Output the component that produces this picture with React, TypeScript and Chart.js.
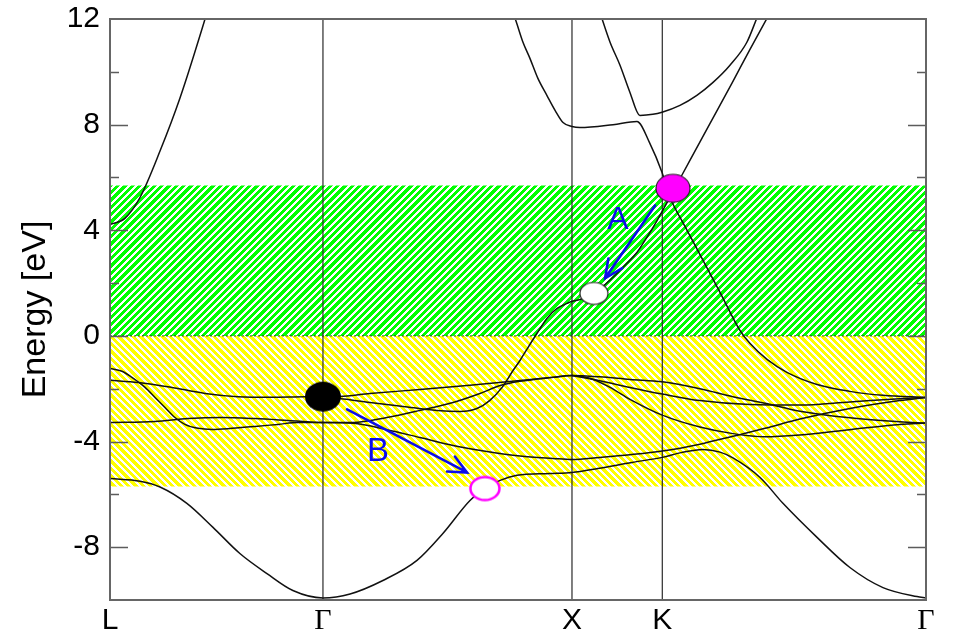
import { useEffect, useRef } from 'react';
import { Chart, registerables } from 'chart.js';

Chart.register(...registerables);

// High-symmetry points along the path (k in units of 2π/a)
const kPoints = [0, 0.856, 1.857, 2.22, 3.28];
const kLabels = ['L', 'Γ', 'X', 'K', 'Γ'];

// Energy axis
const energyMin = -10;
const energyMax = 12;
const energyStep = 2;
const labeledEnergies = [-8, -4, 0, 4, 8, 12];

// Shaded windows above and below the Fermi level (eV)
const upperWindow = 5.7;
const lowerWindow = -5.7;

// Bands as [k, E(eV)] pairs
const bandLowest: [number, number][] = [
  [0, -5.4], [0.121, -5.5], [0.201, -5.72], [0.309, -6.34], [0.414, -7.25], [0.522, -8.24],
  [0.631, -9.0], [0.735, -9.64], [0.856, -9.92], [0.965, -9.77], [1.097, -9.26], [1.234, -8.5],
  [1.338, -7.48], [1.447, -6.23], [1.507, -5.78], [1.568, -5.47], [1.636, -5.28], [1.768, -5.21],
  [1.857, -5.17], [1.961, -5.02], [2.098, -4.79], [2.22, -4.6], [2.299, -4.41], [2.383, -4.3],
  [2.452, -4.4], [2.504, -4.62], [2.613, -5.36], [2.705, -6.34], [2.842, -7.63], [2.974, -8.77],
  [3.107, -9.53], [3.244, -9.87], [3.28, -9.92],
];

const bandValenceA: [number, number][] = [
  [0, -1.23], [0.048, -1.34], [0.088, -1.57], [0.141, -1.95], [0.181, -2.33], [0.221, -2.71],
  [0.261, -3.09], [0.301, -3.35], [0.354, -3.5], [0.41, -3.54], [0.49, -3.5], [0.583, -3.43],
  [0.675, -3.35], [0.756, -3.28], [0.856, -3.28], [0.977, -3.31], [1.113, -3.55], [1.246, -3.85],
  [1.379, -4.15], [1.515, -4.38], [1.648, -4.55], [1.781, -4.64], [1.857, -4.68], [1.969, -4.6],
  [2.09, -4.5], [2.22, -4.36], [2.371, -4.1], [2.504, -3.8], [2.633, -3.5], [2.773, -3.15],
  [2.974, -2.75], [3.175, -2.45], [3.28, -2.33],
];

const bandValenceB: [number, number][] = [
  [0, -3.28], [0.181, -3.24], [0.314, -3.13], [0.45, -3.09], [0.583, -3.13], [0.715, -3.2],
  [0.856, -3.28], [0.977, -3.28], [1.113, -3.09], [1.246, -2.82], [1.379, -2.52], [1.487, -2.18],
  [1.568, -1.88], [1.648, -1.72], [1.781, -1.57], [1.857, -1.5], [1.929, -1.6], [2.01, -1.95],
  [2.09, -2.4], [2.22, -3.0], [2.371, -3.45], [2.504, -3.7], [2.633, -3.82], [2.773, -3.75],
  [2.974, -3.55], [3.175, -3.35], [3.28, -3.3],
];

const bandValenceC: [number, number][] = [
  [0, -1.68], [0.113, -1.76], [0.249, -1.95], [0.382, -2.18], [0.514, -2.3], [0.651, -2.32],
  [0.784, -2.3], [0.856, -2.3], [0.924, -2.29], [1.045, -2.18], [1.246, -2.03], [1.447, -1.87],
  [1.648, -1.69], [1.781, -1.57], [1.857, -1.5], [1.969, -1.55], [2.09, -1.65], [2.22, -1.74],
  [2.371, -2.0], [2.504, -2.3], [2.633, -2.55], [2.773, -2.85], [2.974, -3.1], [3.175, -3.25],
  [3.28, -3.3],
];

const bandValenceD: [number, number][] = [
  [1.857, -1.5], [1.969, -1.7], [2.09, -1.95], [2.22, -2.2], [2.371, -2.45], [2.572, -2.6],
  [2.773, -2.62], [2.974, -2.5], [3.175, -2.38], [3.28, -2.33],
];

const bandConductionL: [number, number][] = [
  [0, 4.22], [0.06, 4.45], [0.121, 5.25], [0.201, 7.0], [0.281, 9.0], [0.382, 12.0], [0.41, 12.9],
];

const bandConductionX: [number, number][] = [
  [0.856, -2.3], [0.924, -2.37], [1.045, -2.52], [1.178, -2.67], [1.314, -2.82], [1.407, -2.86],
  [1.475, -2.75], [1.527, -2.44], [1.576, -1.95], [1.62, -1.31], [1.648, -0.93], [1.68, -0.44],
  [1.716, 0.09], [1.756, 0.66], [1.797, 1.04], [1.837, 1.23], [1.857, 1.31], [1.889, 1.38],
  [1.945, 1.61], [2.022, 2.22], [2.078, 2.75], [2.118, 3.16], [2.158, 3.73], [2.199, 4.37],
  [2.251, 5.25], [2.331, 6.65], [2.412, 8.05], [2.504, 9.64], [2.572, 10.84], [2.641, 12.03],
  [2.693, 12.9],
];

const bandConductionUpper: [number, number][] = [
  [1.608, 12.5], [1.628, 12.03], [1.66, 11.12], [1.688, 10.51], [1.72, 9.75], [1.756, 9.11],
  [1.789, 8.54], [1.821, 8.08], [1.857, 7.93], [1.889, 7.89], [2.022, 8.0], [2.118, 8.12],
  [2.17, 7.29], [2.219, 6.19], [2.251, 5.25], [2.311, 4.15], [2.371, 3.09], [2.452, 1.65],
  [2.532, 0.21], [2.572, -0.28], [2.641, -0.89], [2.721, -1.38], [2.842, -1.84], [2.974, -2.1],
  [3.107, -2.25], [3.28, -2.33],
];

const bandConductionTop: [number, number][] = [
  [1.961, 12.5], [1.977, 12.03], [2.01, 11.12], [2.05, 10.25], [2.09, 9.22], [2.13, 8.35],
  [2.182, 8.39], [2.219, 8.47], [2.291, 8.73], [2.359, 9.11], [2.424, 9.6], [2.492, 10.25],
  [2.56, 11.12], [2.6, 12.03], [2.621, 12.5],
];

// Marked states
const valenceMax: [number, number] = [0.856, -2.3];
const crossingK: [number, number] = [2.263, 5.59];
const conductionMinX: [number, number] = [1.945, 1.61];
const lowerState: [number, number] = [1.507, -5.78];

// Transitions: [from, to]
const transitionA: [[number, number], [number, number]] = [[2.191, 4.94], [1.99, 2.18]];
const transitionB: [[number, number], [number, number]] = [[0.953, -2.78], [1.435, -5.17]];
const labelA: [number, number] = [2.042, 4.37];
const labelB: [number, number] = [1.077, -4.41];

const SANS = '"Liberation Sans", Arial, sans-serif';
const SERIF = '"Liberation Serif", "Times New Roman", serif';
const ARROW_BLUE = 'rgb(12,12,235)';

const toXY = (pts: [number, number][]) => pts.map(([x, y]) => ({ x, y }));

// Crisp 45° stripe tile (3 stripes per 22 px); rising = "/" stripes, otherwise "\"
function hatchTile(rgb: [number, number, number], rising: boolean) {
  const size = 22;
  const period = size / 3;
  const duty = 0.58;
  const c = document.createElement('canvas');
  c.width = size;
  c.height = size;
  const g = c.getContext('2d')!;
  const img = g.createImageData(size, size);
  for (let y = 0; y < size; y++) {
    for (let x = 0; x < size; x++) {
      const s = rising ? x + y : x - y + size;
      const phase = (s / period) % 1;
      const i = (y * size + x) * 4;
      if (phase < duty) {
        img.data[i] = rgb[0];
        img.data[i + 1] = rgb[1];
        img.data[i + 2] = rgb[2];
        img.data[i + 3] = 255;
      } else {
        img.data[i + 3] = 0;
      }
    }
  }
  g.putImageData(img, 0, 0);
  return c;
}

function ellipseImage(rx: number, ry: number, fill: string, stroke: string, lw: number) {
  const c = document.createElement('canvas');
  c.width = Math.ceil(2 * rx + lw + 2);
  c.height = Math.ceil(2 * ry + lw + 2);
  const g = c.getContext('2d')!;
  g.beginPath();
  g.ellipse(c.width / 2, c.height / 2, rx, ry, 0, 0, Math.PI * 2);
  g.fillStyle = fill;
  g.fill();
  if (lw > 0) {
    g.lineWidth = lw;
    g.strokeStyle = stroke;
    g.stroke();
  }
  return c;
}

const frameAndTicks = {
  id: 'frameAndTicks',
  afterDatasetsDraw(chart: any) {
    const { ctx, chartArea: a, scales } = chart;
    const y = scales.y;
    ctx.save();
    ctx.strokeStyle = '#5c5c5c';
    ctx.lineWidth = 1.5;
    for (let v = energyMin + energyStep; v < energyMax; v += energyStep) {
      const py = Math.round(y.getPixelForValue(v)) + 0.5;
      const len = labeledEnergies.includes(v) ? 18 : 9;
      ctx.beginPath();
      ctx.moveTo(a.left, py);
      ctx.lineTo(a.left + len, py);
      ctx.moveTo(a.right, py);
      ctx.lineTo(a.right - len, py);
      ctx.stroke();
    }
    ctx.lineWidth = 2;
    ctx.strokeStyle = '#666';
    ctx.strokeRect(a.left, a.top, a.right - a.left, a.bottom - a.top);
    ctx.restore();
  },
};

function drawArrow(ctx: CanvasRenderingContext2D, x0: number, y0: number, x1: number, y1: number) {
  const ang = Math.atan2(y0 - y1, x0 - x1);
  const head = 20;
  const spread = (25 * Math.PI) / 180;
  ctx.beginPath();
  ctx.moveTo(x0, y0);
  ctx.lineTo(x1, y1);
  ctx.moveTo(x1 + head * Math.cos(ang + spread), y1 + head * Math.sin(ang + spread));
  ctx.lineTo(x1, y1);
  ctx.lineTo(x1 + head * Math.cos(ang - spread), y1 + head * Math.sin(ang - spread));
  ctx.stroke();
}

const transitions = {
  id: 'transitions',
  afterDatasetsDraw(chart: any) {
    const { ctx, scales } = chart;
    const px = (p: [number, number]) => [scales.x.getPixelForValue(p[0]), scales.y.getPixelForValue(p[1])];
    ctx.save();
    ctx.strokeStyle = ARROW_BLUE;
    ctx.fillStyle = ARROW_BLUE;
    ctx.lineWidth = 2.6;
    ctx.lineCap = 'round';
    ctx.lineJoin = 'miter';
    for (const [from, to] of [transitionA, transitionB]) {
      const [x0, y0] = px(from);
      const [x1, y1] = px(to);
      drawArrow(ctx, x0, y0, x1, y1);
    }
    ctx.textAlign = 'center';
    ctx.textBaseline = 'middle';
    ctx.font = `32px ${SANS}`;
    const [ax, ay] = px(labelA);
    ctx.fillText('A', ax, ay);
    ctx.font = `33px ${SANS}`;
    const [bx, by] = px(labelB);
    ctx.fillText('B', bx, by);
    ctx.restore();
  },
};

export default function App() {
  const ref = useRef<HTMLCanvasElement>(null);

  useEffect(() => {
    const canvas = ref.current!;
    const ctx = canvas.getContext('2d')!;
    const greenHatch = ctx.createPattern(hatchTile([0, 255, 0], true), 'repeat')!;
    const yellowHatch = ctx.createPattern(hatchTile([255, 255, 0], false), 'repeat')!;

    const bandStyle = {
      borderColor: '#111',
      borderWidth: 1.5,
      pointRadius: 0,
      fill: false,
      cubicInterpolationMode: 'monotone' as const,
      order: 5,
    };
    const bands = [
      bandLowest, bandValenceA, bandValenceB, bandValenceC, bandValenceD,
      bandConductionL, bandConductionX, bandConductionUpper, bandConductionTop,
    ].map((b) => ({ ...bandStyle, data: toXY(b) }));

    const symmetryLines = kPoints.slice(1, -1).map((k) => ({
      data: [{ x: k, y: energyMin }, { x: k, y: energyMax }],
      borderColor: '#2a2a2a',
      borderWidth: 1.2,
      pointRadius: 0,
      fill: false,
      order: 8,
    }));

    const windows = [
      { level: upperWindow, pattern: greenHatch },
      { level: lowerWindow, pattern: yellowHatch },
    ].map(({ level, pattern }) => ({
      data: [{ x: kPoints[0], y: level }, { x: kPoints[kPoints.length - 1], y: level }],
      borderWidth: 0,
      borderColor: 'rgba(0,0,0,0)',
      backgroundColor: pattern,
      fill: { value: 0 },
      pointRadius: 0,
      order: 10,
    }));

    const fermiLine = {
      data: [{ x: kPoints[0], y: 0 }, { x: kPoints[kPoints.length - 1], y: 0 }],
      borderColor: '#333',
      borderWidth: 1,
      borderDash: [2, 2],
      pointRadius: 0,
      fill: false,
      order: 9,
    };

    const markers = [
      { p: valenceMax, img: ellipseImage(18, 15, '#000', '#000', 0) },
      { p: crossingK, img: ellipseImage(17, 14, '#ff00ff', '#222', 1.2) },
      { p: conductionMinX, img: ellipseImage(14, 11, '#fff', '#222', 1.2) },
      { p: lowerState, img: ellipseImage(14.5, 11.5, '#fff', '#ff00ff', 2.5) },
    ].map(({ p, img }) => ({
      data: [{ x: p[0], y: p[1] }],
      showLine: false,
      pointStyle: img,
      pointRadius: 10,
      order: 0,
    }));

    const chart = new Chart(ctx, {
      type: 'line',
      data: { datasets: [...windows, fermiLine, ...symmetryLines, ...bands, ...markers] as any },
      options: {
        responsive: false,
        animation: false,
        events: [],
        parsing: false as any,
        layout: { padding: { top: 19, right: 27, left: 0, bottom: 0 } },
        plugins: { legend: { display: false }, tooltip: { enabled: false } },
        scales: {
          x: {
            type: 'linear',
            min: kPoints[0],
            max: kPoints[kPoints.length - 1],
            grid: { display: false, drawTicks: false },
            border: { display: false },
            afterBuildTicks: (s: any) => {
              s.ticks = kPoints.map((v) => ({ value: v }));
            },
            afterFit: (s: any) => {
              s.height = 35;
              s.paddingLeft = 0;
              s.paddingRight = 0;
            },
            ticks: {
              autoSkip: false,
              maxRotation: 0,
              padding: 3,
              color: '#000',
              callback: (_v: any, i: number) => kLabels[i],
              font: (c: any) => ({
                family: kLabels[c.index] === 'Γ' ? SERIF : SANS,
                size: 30,
              }),
            },
          },
          y: {
            type: 'linear',
            min: energyMin,
            max: energyMax,
            grid: { display: false, drawTicks: false },
            border: { display: false },
            afterFit: (s: any) => {
              s.width = 110;
              s.paddingTop = 0;
              s.paddingBottom = 0;
            },
            ticks: {
              stepSize: energyStep,
              autoSkip: false,
              padding: 10,
              color: '#000',
              font: { family: SANS, size: 30 },
              callback: (v: any) => (labeledEnergies.includes(Number(v)) ? String(v) : ''),
            },
            title: {
              display: true,
              text: 'Energy [eV]',
              color: '#000',
              font: { family: SANS, size: 34 },
              padding: { top: 15, bottom: 0 },
            },
          },
        },
      },
      plugins: [frameAndTicks, transitions],
    });

    return () => chart.destroy();
  }, []);

  return (
    <div style={{ position: 'absolute', left: 0, top: 0, width: 953, height: 635 }}>
      <canvas ref={ref} width={953} height={635} style={{ display: 'block' }} />
    </div>
  );
}
